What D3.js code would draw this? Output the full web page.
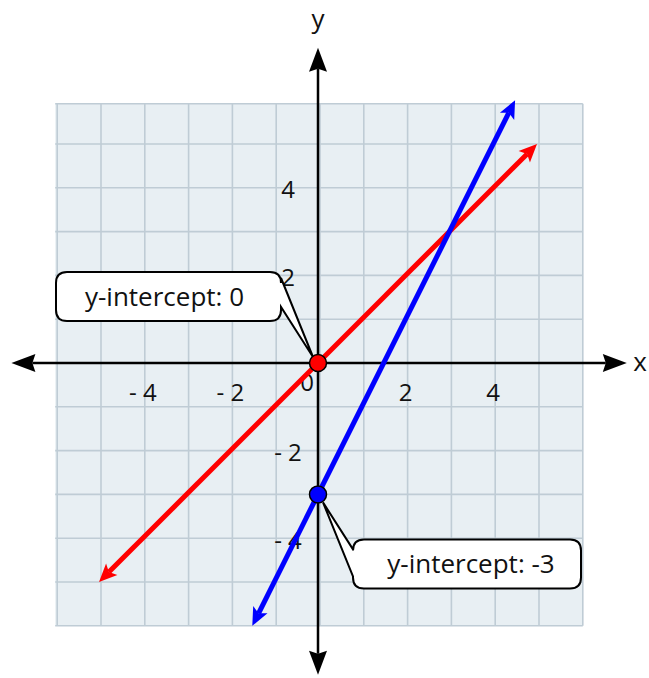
<!DOCTYPE html>
<html>
<head>
<meta charset="utf-8">
<script src="https://cdn.jsdelivr.net/npm/d3@7"></script>
<style>
  html, body { margin: 0; padding: 0; background: #fff; }
  text { font-family: "Open Sans", "Noto Sans", sans-serif; fill: #111; }
</style>
</head>
<body>
<div id="chart"></div>
<script>
// grid and tick values
const gridX = d3.range(-6, 7);
const gridY = d3.range(-6, 7);
const xTicks = [-4, -2, 2, 4];
const yTicks = [-4, -2, 2, 4];

// the two lines, as their drawn end points
const redLine = [[-5, -5], [5, 5]];
const blueLine = [[-1.5, -6], [4.5, 6]];

// the y-intercepts with their callouts
const intercepts = [
    {x: 0, y: 0, label: "y-intercept: 0", color: "#ff0000"},
    {x: 0, y: -3, label: "y-intercept: -3", color: "#0000ff"}
];

const width = 649;
const height = 678;

const svg = d3.select("#chart").append("svg")
    .attr("width", width)
    .attr("height", height);

// 0 sits at (318, 363), one unit is about 43.8 px
const x = d3.scaleLinear().domain([-6, 6]).range([55.2, 580.8]);
const y = d3.scaleLinear().domain([-6, 6]).range([625.8, 100.2]);

// background grid
svg.append("rect")
    .attr("x", x(-6))
    .attr("y", y(5.92))
    .attr("width", x(6) - x(-6) + 2)
    .attr("height", y(-6) - y(5.92))
    .attr("fill", "#e8eff3");

const grid = svg.append("g")
    .attr("stroke", "#bfccd5")
    .attr("stroke-width", 1.6);

grid.selectAll(".vline")
    .data(gridX)
    .join("line")
    .attr("class", "vline")
    .attr("x1", d => x(d) + 2)
    .attr("x2", d => x(d) + 2)
    .attr("y1", y(5.92))
    .attr("y2", y(-6));

grid.selectAll(".hline")
    .data(gridY.filter(d => d < 6))
    .join("line")
    .attr("class", "hline")
    .attr("x1", x(-6))
    .attr("x2", x(6) + 2)
    .attr("y1", d => y(d))
    .attr("y2", d => y(d));

grid.append("line")
    .attr("x1", x(-6)).attr("x2", x(6) + 2)
    .attr("y1", y(5.92)).attr("y2", y(5.92));

// tick labels
const fmt = d => d < 0 ? "- " + (-d) : String(d);

svg.append("g")
    .selectAll("text")
    .data(xTicks)
    .join("text")
    .attr("x", d => x(d))
    .attr("y", y(0) + 30)
    .attr("dy", "0.35em")
    .attr("text-anchor", "middle")
    .attr("font-size", 24)
    .text(fmt);

svg.append("g")
    .selectAll("text")
    .data(yTicks)
    .join("text")
    .attr("x", x(0) - 30)
    .attr("y", d => y(d) + 2)
    .attr("dy", "0.35em")
    .attr("text-anchor", "middle")
    .attr("font-size", 24)
    .text(fmt);

svg.append("text")
    .attr("x", x(0) - 11)
    .attr("y", y(0) + 20)
    .attr("dy", "0.35em")
    .attr("text-anchor", "middle")
    .attr("font-size", 24)
    .text("0");

// arrow head drawn at (tipX, tipY) pointing along angle
function arrowHead(g, tipX, tipY, angle, len, half, notch, color) {
    g.append("path")
        .attr("d", `M0,0 L${-len},${-half} L${-len + notch},0 L${-len},${half} Z`)
        .attr("transform", `translate(${tipX},${tipY}) rotate(${angle * 180 / Math.PI})`)
        .attr("fill", color);
}

function arrowLine(g, x1, y1, x2, y2, color, sw, len, half, notch) {
    const a = Math.atan2(y2 - y1, x2 - x1);
    const cut = len - notch;
    g.append("line")
        .attr("x1", x1 + Math.cos(a) * cut)
        .attr("y1", y1 + Math.sin(a) * cut)
        .attr("x2", x2 - Math.cos(a) * cut)
        .attr("y2", y2 - Math.sin(a) * cut)
        .attr("stroke", color)
        .attr("stroke-width", sw);
    arrowHead(g, x2, y2, a, len, half, notch, color);
    arrowHead(g, x1, y1, a + Math.PI, len, half, notch, color);
}

// axes
const axes = svg.append("g");
arrowLine(axes, x(-7.0), y(0), x(7.05), y(0), "#000", 2.5, 24, 9, 3);
arrowLine(axes, x(0), y(-7.12), x(0), y(7.2), "#000", 2.5, 24, 9, 3);

svg.append("text")
    .attr("x", x(7.35))
    .attr("y", y(0))
    .attr("dy", "0.3em")
    .attr("text-anchor", "middle")
    .attr("font-size", 26)
    .text("x");

svg.append("text")
    .attr("x", x(0))
    .attr("y", 20)
    .attr("dy", "0.3em")
    .attr("text-anchor", "middle")
    .attr("font-size", 26)
    .text("y");

// the two lines
const lineG = svg.append("g");
arrowLine(lineG, x(redLine[0][0]), y(redLine[0][1]), x(redLine[1][0]), y(redLine[1][1]), "#ff0000", 5, 18, 8, 4);
arrowLine(lineG, x(blueLine[0][0]), y(blueLine[0][1]), x(blueLine[1][0]), y(blueLine[1][1]), "#0000ff", 5, 18, 8, 4);

// callout shapes: rounded box with a wedge to the point
function calloutPath(x0, y0, x1, y1, r, side, wb0, wb1, tx, ty) {
    if (side === "right") {
        return `M${x0 + r},${y0} H${x1 - r} Q${x1},${y0} ${x1},${y0 + r} V${wb0} L${tx},${ty} L${x1},${wb1}
                V${y1 - r} Q${x1},${y1} ${x1 - r},${y1} H${x0 + r} Q${x0},${y1} ${x0},${y1 - r}
                V${y0 + r} Q${x0},${y0} ${x0 + r},${y0} Z`;
    }
    return `M${x0 + r},${y0} H${x1 - r} Q${x1},${y0} ${x1},${y0 + r} V${y1 - r} Q${x1},${y1} ${x1 - r},${y1}
            H${x0 + r} Q${x0},${y1} ${x0},${y1 - r} V${wb1} L${tx},${ty} L${x0},${wb0}
            V${y0 + r} Q${x0},${y0} ${x0 + r},${y0} Z`;
}

const boxes = [
    {dx0: -262, dx1: -37, dy0: -91, dy1: -42, side: "right", wb0: -85, wb1: -56, tx: -5, ty: -6},
    {dx0: 35, dx1: 263, dy0: 45, dy1: 94, side: "left", wb0: 55, wb1: 82, tx: 5, ty: 8}
];

intercepts.forEach((d, i) => {
    const px = x(d.x), py = y(d.y), b = boxes[i];
    svg.append("path")
        .attr("d", calloutPath(px + b.dx0, py + b.dy0, px + b.dx1, py + b.dy1, 11, b.side,
            py + b.wb0, py + b.wb1, px + b.tx, py + b.ty))
        .attr("fill", "#fff")
        .attr("stroke", "#000")
        .attr("stroke-width", 2);
    svg.append("text")
        .attr("x", px + (b.dx0 + b.dx1) / 2 + (b.side === "left" ? 4 : -4))
        .attr("y", py + (b.dy0 + b.dy1) / 2)
        .attr("dy", "0.35em")
        .attr("text-anchor", "middle")
        .attr("font-size", 26)
        .text(d.label);
});

svg.append("g")
    .selectAll("circle")
    .data(intercepts)
    .join("circle")
    .attr("cx", d => x(d.x))
    .attr("cy", d => y(d.y))
    .attr("r", 8.5)
    .attr("fill", d => d.color)
    .attr("stroke", "#000")
    .attr("stroke-width", 1.5);
</script>
</body>
</html>
